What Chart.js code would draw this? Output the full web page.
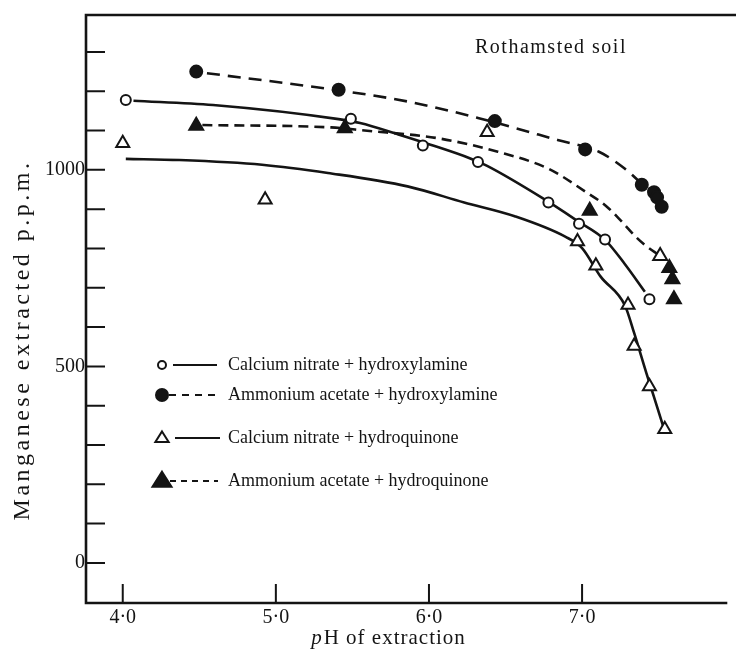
<!DOCTYPE html>
<html>
<head>
<meta charset="utf-8">
<script src="https://cdn.jsdelivr.net/npm/chart.js@4.4.1/dist/chart.umd.min.js"></script>
<style>
  html, body { margin: 0; padding: 0; background: #fff; }
</style>
</head>
<body>
<canvas id="manganeseChart" width="736" height="655"></canvas>
<script>
/* ======= Data ====== */
const xTickValues = [4, 5, 6, 7];
const yTickValues = [0, 100, 200, 300, 400, 500, 600, 700, 800, 900, 1000, 1100, 1200, 1300];
const yLabelValues = [0, 500, 1000];

const seriesNames = [
  'Calcium nitrate + hydroxylamine',
  'Ammonium acetate + hydroxylamine',
  'Calcium nitrate + hydroquinone',
  'Ammonium acetate + hydroquinone'
];

// measured points [pH, ppm]
const caNitrateHxPts = [[4.02, 1178], [5.49, 1130], [5.96, 1062], [6.32, 1020], [6.78, 917], [6.98, 863], [7.15, 823], [7.44, 671]];
const amAcetateHxPts = [[4.48, 1250], [5.41, 1204], [6.43, 1124], [7.02, 1052], [7.39, 962], [7.47, 943], [7.49, 930], [7.52, 906]];
const caNitrateHqPts = [[4.0, 1068], [4.93, 924], [6.38, 1096], [6.97, 818], [7.09, 756], [7.30, 656], [7.34, 552], [7.44, 449], [7.54, 340]];
const amAcetateHqPts = [[4.48, 1112], [5.45, 1106], [7.05, 896], [7.51, 781], [7.57, 750], [7.59, 722], [7.60, 671]];

// hand-drawn curves through the points [pH, ppm]
const caNitrateHxCurve = [[4.07, 1176], [4.59, 1165], [5.41, 1129], [5.55, 1119], [5.8, 1090], [6.01, 1064], [6.27, 1029], [6.38, 1010], [6.75, 926], [6.97, 870], [7.15, 822], [7.28, 760], [7.41, 690]];
const amAcetateHxCurve = [[4.55, 1246], [5.36, 1205], [5.86, 1174], [6.32, 1132], [6.84, 1076], [7.11, 1046], [7.28, 1003], [7.39, 965], [7.47, 940], [7.52, 906]];
const caNitrateHqCurve = [[4.02, 1028], [4.37, 1025], [4.91, 1013], [5.34, 992], [5.86, 958], [6.23, 917], [6.56, 882], [6.89, 830], [7.0, 801], [7.12, 729], [7.28, 655], [7.34, 585], [7.42, 483], [7.47, 422], [7.54, 335]];
const amAcetateHqCurve = [[4.52, 1114], [5.36, 1108], [5.58, 1100], [6.05, 1081], [6.45, 1046], [6.78, 1003], [7.02, 945], [7.16, 907], [7.26, 868], [7.35, 830], [7.41, 809], [7.51, 781]];

// one ammonium acetate + hydroquinone triangle is printed hollow
const amAcetateHqHollow = 3;

/* ======= Styling ====== */
const SERIF = "'Liberation Serif', 'Times New Roman', serif";
const INK = '#141414';

const toXY = (pairs) => pairs.map(p => ({ x: p[0], y: p[1] }));

function curveSet(pairs, dash) {
  return {
    data: toXY(pairs),
    showLine: true,
    borderColor: INK,
    borderWidth: 2.6,
    borderDash: dash,
    pointRadius: 0,
    cubicInterpolationMode: 'monotone',
    order: 2,
  };
}

function pointSet(pairs, style, radius, filled) {
  return {
    data: toXY(pairs),
    showLine: false,
    pointStyle: style,
    pointRadius: radius,
    pointBorderWidth: 2,
    pointBorderColor: INK,
    pointBackgroundColor: filled ? INK : '#fff',
    order: 1,
  };
}

const hqFilled = pointSet(amAcetateHqPts, 'triangle', 8, true);
hqFilled.pointBackgroundColor = (c) => (c.dataIndex === amAcetateHqHollow ? '#fff' : INK);

/* ======= Frame, inward ticks, titles, key ====== */
const paperFrame = {
  id: 'paperFrame',
  afterDraw(chart) {
    const { ctx, chartArea: a, scales: { x, y } } = chart;
    ctx.save();
    ctx.strokeStyle = INK;
    ctx.lineCap = 'square';
    ctx.lineWidth = 2.6;
    ctx.beginPath();
    ctx.moveTo(chart.width, a.top);
    ctx.lineTo(a.left, a.top);
    ctx.lineTo(a.left, a.bottom);
    ctx.lineTo(a.right, a.bottom);
    ctx.stroke();

    // ticks point into the plot
    ctx.lineWidth = 2;
    ctx.lineCap = 'butt';
    ctx.beginPath();
    yTickValues.forEach(v => {
      const py = y.getPixelForValue(v);
      ctx.moveTo(a.left, py);
      ctx.lineTo(a.left + 19, py);
    });
    xTickValues.forEach(v => {
      const px = x.getPixelForValue(v);
      ctx.moveTo(px, a.bottom);
      ctx.lineTo(px, a.bottom - 19);
    });
    ctx.stroke();

    ctx.fillStyle = INK;
    ctx.textBaseline = 'middle';

    // y title
    ctx.save();
    ctx.translate(23, 340);
    ctx.rotate(-Math.PI / 2);
    ctx.textAlign = 'center';
    ctx.font = '24px ' + SERIF;
    ctx.letterSpacing = '3.5px';
    ctx.fillText('Manganese extracted p.p.m.', 0, 0);
    ctx.restore();

    // x title with italic p
    ctx.letterSpacing = '1px';
    ctx.textAlign = 'left';
    const titleItalic = 'p';
    const titleRest = 'H of extraction';
    ctx.font = 'italic 21px ' + SERIF;
    const wP = ctx.measureText(titleItalic).width;
    ctx.font = '21px ' + SERIF;
    const wRest = ctx.measureText(titleRest).width;
    let tx = 388 - (wP + wRest) / 2;
    ctx.font = 'italic 21px ' + SERIF;
    ctx.fillText(titleItalic, tx, 638);
    ctx.font = '21px ' + SERIF;
    ctx.fillText(titleRest, tx + wP + 1, 638);

    // site label
    ctx.textAlign = 'center';
    ctx.letterSpacing = '1.5px';
    ctx.font = '20px ' + SERIF;
    ctx.fillText('Rothamsted soil', 551, 48);
    ctx.letterSpacing = '0px';

    // key
    const rows = [
      { y: 365, style: 'circle', r: 4, filled: false, dash: [], x0: 173, x1: 217 },
      { y: 395, style: 'circle', r: 6, filled: true, dash: [7, 6], x0: 169, x1: 218 },
      { y: 438, style: 'triangle', r: 7, filled: false, dash: [], x0: 175, x1: 220 },
      { y: 481, style: 'triangle', r: 10, filled: true, dash: [6, 5], x0: 170, x1: 218 },
    ];
    rows.forEach((row, i) => {
      ctx.lineWidth = 2;
      ctx.setLineDash(row.dash);
      ctx.beginPath();
      ctx.moveTo(row.x0, row.y);
      ctx.lineTo(row.x1, row.y);
      ctx.stroke();
      ctx.setLineDash([]);
      ctx.fillStyle = row.filled ? INK : '#fff';
      ctx.beginPath();
      if (row.style === 'circle') {
        ctx.arc(162, row.y, row.r, 0, Math.PI * 2);
      } else {
        const h = row.r * 1.5;
        ctx.moveTo(162, row.y - h * 0.62);
        ctx.lineTo(162 + row.r * 0.95, row.y + h * 0.38);
        ctx.lineTo(162 - row.r * 0.95, row.y + h * 0.38);
        ctx.closePath();
      }
      ctx.fill();
      ctx.stroke();
      ctx.fillStyle = INK;
      ctx.textAlign = 'left';
      ctx.font = '18px ' + SERIF;
      ctx.fillText(seriesNames[i], 228, row.y);
    });
    ctx.restore();
  }
};

/* ======= Chart ====== */
const ctx = document.getElementById('manganeseChart');
new Chart(ctx, {
  type: 'scatter',
  data: {
    datasets: [
      pointSet(caNitrateHxPts, 'circle', 5, false),
      pointSet(amAcetateHxPts, 'circle', 6, true),
      pointSet(caNitrateHqPts, 'triangle', 7.5, false),
      hqFilled,
      curveSet(caNitrateHxCurve, []),
      curveSet(amAcetateHxCurve, [13, 8]),
      curveSet(caNitrateHqCurve, []),
      curveSet(amAcetateHqCurve, [10, 6]),
    ],
  },
  options: {
    responsive: false,
    animation: false,
    layout: {
      padding: { top: 15, right: 3, left: 0, bottom: 0 },
    },
    plugins: {
      legend: { display: false },
      tooltip: { enabled: false },
    },
    scales: {
      x: {
        type: 'linear',
        min: 3.76,
        max: 7.94,
        afterBuildTicks: (s) => { s.ticks = xTickValues.map(v => ({ value: v })); },
        afterFit: (s) => { s.height = 52; },
        grid: { display: false, drawTicks: false },
        border: { display: false },
        ticks: {
          color: INK,
          padding: 3,
          maxRotation: 0,
          font: { family: SERIF, size: 20 },
          callback: (v) => Number(v).toFixed(1).replace('.', '\u00b7'),
        },
      },
      y: {
        type: 'linear',
        min: -102,
        max: 1394,
        afterBuildTicks: (s) => { s.ticks = yTickValues.map(v => ({ value: v })); },
        afterFit: (s) => { s.width = 86; },
        grid: { display: false, drawTicks: false },
        border: { display: false },
        ticks: {
          color: INK,
          padding: 1,
          font: { family: SERIF, size: 20 },
          callback: (v) => (yLabelValues.includes(v) ? String(v) : ''),
        },
      },
    },
  },
  plugins: [paperFrame],
});
</script>
</body>
</html>
